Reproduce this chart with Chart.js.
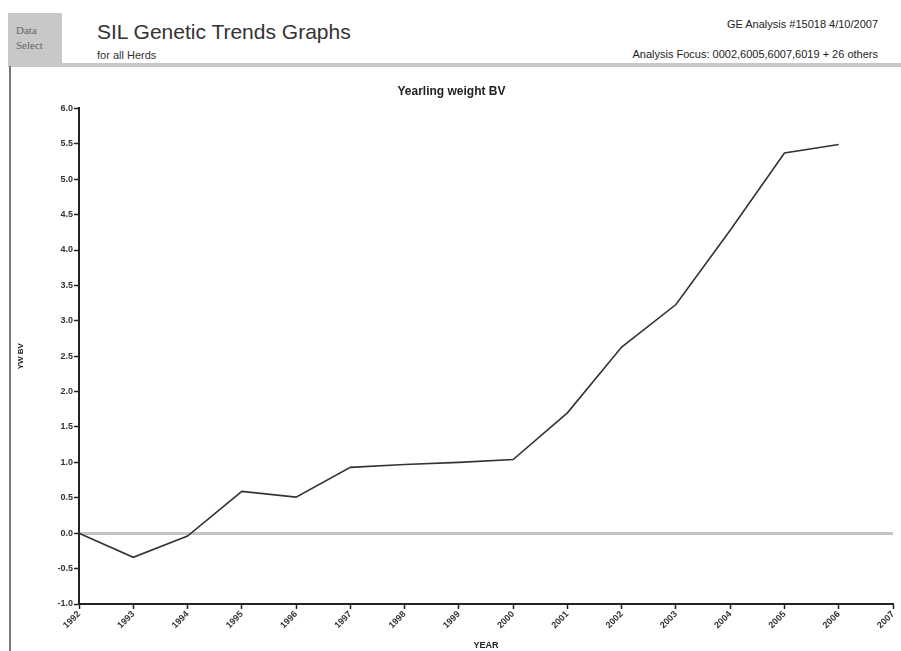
<!DOCTYPE html>
<html>
<head>
<meta charset="utf-8">
<script src="https://cdn.jsdelivr.net/npm/chart.js@4/dist/chart.umd.min.js"></script>
<style>
	body { margin: 0; background: #fff; font-family: "Liberation Sans", Arial, sans-serif; }
	#page { position: relative; width: 901px; height: 651px; overflow: hidden; }
	.sel { position: absolute; left: 8px; top: 13px; width: 54px; height: 51px; background: #c8c8c8;
		font-family: "Liberation Serif", serif; font-size: 11px; color: #666; line-height: 15px;
		padding: 10px 0 0 8px; box-sizing: border-box; }
	.title { position: absolute; left: 97px; top: 20px; font-size: 21px; color: #333; }
	.sub { position: absolute; left: 97px; top: 49px; font-size: 11px; color: #333; }
	.r1, .r2 { position: absolute; right: 23px; font-size: 11px; color: #222; }
	.r1 { top: 18px; }
	.r2 { top: 48px; }
	.rule { position: absolute; left: 8px; top: 63px; width: 893px; height: 4px; background: #c8c8c8; }
	.vline { position: absolute; left: 9px; top: 66px; width: 2px; height: 585px; background: #777; }
	#wrap { position: absolute; left: 10px; top: 70px; width: 891px; height: 581px; }
</style>
</head>
<body>
<div id="page">
	<div class="sel">Data<br>Select</div>
	<div class="title">SIL Genetic Trends Graphs</div>
	<div class="sub">for all Herds</div>
	<div class="r1">GE Analysis #15018 4/10/2007</div>
	<div class="r2">Analysis Focus: 0002,6005,6007,6019 + 26 others</div>
	<div class="rule"></div>
	<div class="vline"></div>
	<div id="wrap"><canvas id="myChart"></canvas></div>
</div>
<script>
//Chart data

let years = ['1992', '1993', '1994', '1995', '1996', '1997', '1998', '1999',
	'2000', '2001', '2002', '2003', '2004', '2005', '2006', '2007'];
let ywBV = [0.0, -0.34, -0.04, 0.59, 0.51, 0.93, 0.97, 1.0,
	1.04, 1.7, 2.63, 3.23, 4.28, 5.37, 5.49, null];
let yTicks = { min: -1.0, max: 6.0, step: 0.5 };

//Build chart

const tickFont = { family: 'Liberation Sans', size: 9, weight: 'bold' };

const ctx = document.getElementById('myChart').getContext('2d');
const myChart = new Chart(ctx, {
	type: 'line',
	data: {
		labels: years,
		datasets: [{
			label: 'Yearling weight BV',
			data: ywBV,
			borderColor: '#333',
			borderWidth: 1.6,
			pointRadius: 0,
			tension: 0,
			fill: false
		}]
	},
	options: {
		responsive: true,
		maintainAspectRatio: false,
		animation: false,
		layout: { padding: { left: 0, right: 8, top: 0, bottom: 0 } },
		plugins: {
			legend: { display: false },
			tooltip: { enabled: false },
			title: {
				display: true,
				text: 'Yearling weight BV',
				color: '#222',
				font: { family: 'Liberation Sans', size: 12, weight: 'bold' },
				padding: { top: 14, bottom: 10 }
			}
		},
		scales: {
			x: {
				offset: false,
				border: { color: '#222', width: 2 },
				grid: { drawOnChartArea: false, tickLength: 5, color: '#222', tickWidth: 1.5 },
				ticks: { color: '#333', font: tickFont, minRotation: 45, maxRotation: 45, padding: 0, autoSkip: false },
				title: { display: true, text: 'YEAR', color: '#222', font: { family: 'Liberation Sans', size: 9, weight: 'bold' }, padding: 0 },
				afterFit: function (scale) { scale.height = 47; }
			},
			y: {
				min: yTicks.min,
				max: yTicks.max,
				border: { color: '#222', width: 2 },
				grid: {
					color: (c) => c.tick && c.tick.value === 0 ? '#c4c4c4' : 'rgba(0,0,0,0)',
					lineWidth: (c) => c.tick && c.tick.value === 0 ? 3 : 1,
					tickColor: '#222',
					tickWidth: 1.5,
					tickLength: 5
				},
				ticks: {
					stepSize: yTicks.step,
					color: '#333',
					font: tickFont,
					padding: 1,
					callback: (v) => Number(v).toFixed(1)
				},
				title: { display: true, text: 'YW BV', color: '#222', font: { family: 'Liberation Sans', size: 8, weight: 'bold' }, padding: { top: 6, bottom: 0 } },
				afterFit: function (scale) { scale.width = 69; }
			}
		}
	}
});
</script>
</body>
</html>
